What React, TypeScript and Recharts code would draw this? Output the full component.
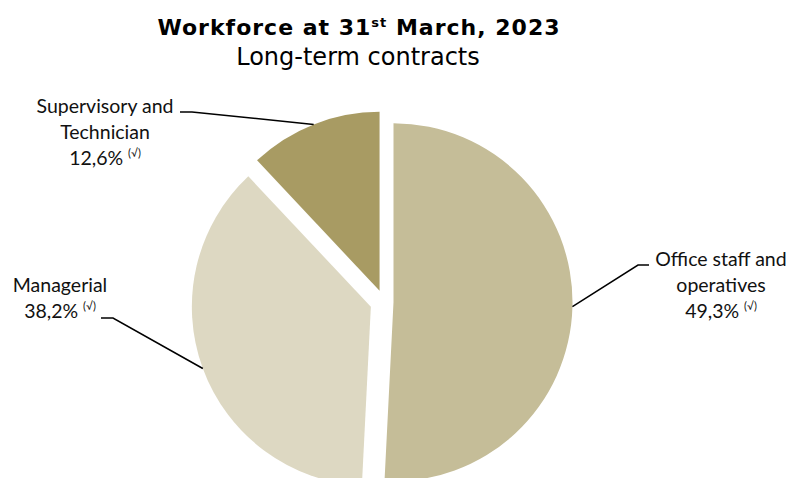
import React from 'react';
import { PieChart, Pie, Cell } from 'recharts';

const categories = ['Office staff and operatives', 'Managerial', 'Supervisory and Technician'];
// slice sizes as drawn in the picture (the printed labels below differ a little)
const shares = [50.8, 37.2, 12.0];
const shareLabels = ['49,3%', '38,2%', '12,6%'];
const labelLines = [['Office staff and', 'operatives'], ['Managerial'], ['Supervisory and', 'Technician']];

const colors = ['#C5BD98', '#DDD8C2', '#A89B63'];

// how far each slice is pulled out from the common centre
const explode = [9.5, 14, 12];

// manual label placement (Excel style), text centre + baseline of first line, and leader elbow
const labelLayout = [
    { x: 721, y: 266, elbow: [638, 265], end: [649, 265] },
    { x: 60, y: 292, elbow: [113, 318], end: [101, 318] },
    { x: 105, y: 113, elbow: [192, 112], end: [180, 112] },
];

const data = categories.map((name, i) => ({ name, value: shares[i] }));

const W = 790;
const H = 478;
const CX = 384;
const CY = 302;
const R = 179;
const RAD = Math.PI / 180;
const FONT = 'Lato, "Open Sans", sans-serif';
const TITLE_FONT = '"DejaVu Sans", Verdana, sans-serif';

const total = shares.reduce((a, b) => a + b, 0);

// middle angle of slice i, recharts convention (deg, ccw from 3 o'clock), starting at 12 o'clock clockwise
const midAngleOf = (i: number) => {
    const before = shares.slice(0, i).reduce((a, b) => a + b, 0);
    return 90 - (360 * (before + shares[i] / 2)) / total;
};

const makeLabel = (k: number) => (props: any) => {
    if (props.index !== k) return null;
    const { cx, cy, midAngle, outerRadius } = props;
    const sx = cx + outerRadius * Math.cos(-midAngle * RAD);
    const sy = cy + outerRadius * Math.sin(-midAngle * RAD);
    const lay = labelLayout[k];
    const lines = labelLines[k];
    return (
        <g>
            <polyline
                points={`${sx},${sy} ${lay.elbow[0]},${lay.elbow[1]} ${lay.end[0]},${lay.end[1]}`}
                fill="none"
                stroke="#000"
                strokeWidth={1.5}
            />
            <text textAnchor="middle" fontFamily={FONT} fontSize={19.5} fill="#111">
                {lines.map((l, j) => (
                    <tspan key={j} x={lay.x} y={lay.y + j * 26}>
                        {l}
                    </tspan>
                ))}
                <tspan x={lay.x} y={lay.y + lines.length * 26}>
                    {shareLabels[k] + ' '}
                </tspan>
                <tspan fontSize={11} dy={-8}>
                    (√)
                </tspan>
            </text>
        </g>
    );
};

const App: React.FC = () => {
    return (
        <div style={{ position: 'absolute', left: 0, top: 0, width: W, height: H, background: '#fff' }}>
            <PieChart width={W} height={H} margin={{ top: 0, right: 0, bottom: 0, left: 0 }}>
                {data.map((_, k) => {
                    const mid = midAngleOf(k);
                    const cx = CX + explode[k] * Math.cos(mid * RAD);
                    const cy = CY - explode[k] * Math.sin(mid * RAD);
                    return (
                        <Pie
                            key={k}
                            data={data}
                            dataKey="value"
                            nameKey="name"
                            cx={cx}
                            cy={cy}
                            outerRadius={R}
                            startAngle={90}
                            endAngle={-270}
                            stroke="none"
                            label={makeLabel(k)}
                            labelLine={false}
                            isAnimationActive={false}
                        >
                            {data.map((__, i) => (
                                <Cell key={i} fill={i === k ? colors[i] : 'none'} />
                            ))}
                        </Pie>
                    );
                })}
            </PieChart>
            <svg width={W} height={80} style={{ position: 'absolute', left: 0, top: 0, pointerEvents: 'none' }}>
                <text
                    x={359}
                    y={35}
                    textAnchor="middle"
                    fontFamily={TITLE_FONT}
                    fontWeight="bold"
                    fontSize={22}
                    letterSpacing={1}
                    fill="#000"
                >
                    Workforce at 31
                    <tspan fontSize={13} dy={-8}>st</tspan>
                    <tspan dy={8}> March, 2023</tspan>
                </text>
                <text x={358} y={65} textAnchor="middle" fontFamily={TITLE_FONT} fontSize={24} fill="#000">
                    Long-term contracts
                </text>
            </svg>
        </div>
    );
};

export default App;
